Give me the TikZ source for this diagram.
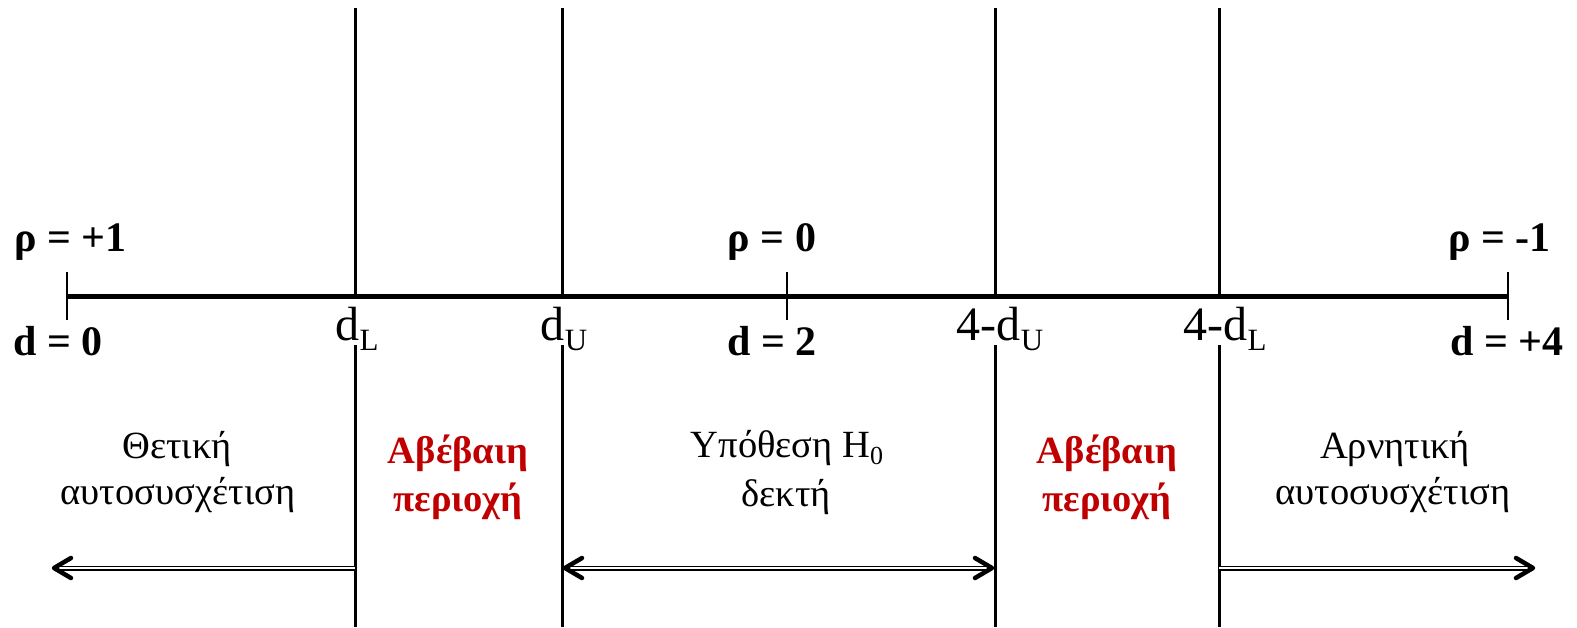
\documentclass[tikz,border=0pt]{standalone}
\usepackage{fontspec}
\setmainfont{Liberation Serif}
\usetikzlibrary{calc}
\definecolor{darkred}{HTML}{C00000}
\tikzset{
  vline/.style={line width=3pt},
  axisline/.style={line width=5pt},
  tickline/.style={line width=1.8pt},
  boldlbl/.style={font=\fontsize{42}{46}\selectfont\bfseries, inner sep=0pt},
  dlbl/.style={font=\fontsize{48}{52}\selectfont, inner sep=0pt, anchor=base},
  region/.style={font=\fontsize{38.5}{42}\selectfont, inner sep=0pt, anchor=base},
  uncertain/.style={font=\fontsize{38.5}{42}\selectfont\bfseries, text=darkred, inner sep=0pt, anchor=base},
  dbl/.style={double, line width=1.3pt, double distance=2.4pt},
  head/.style={line width=4.5pt, line cap=round, line join=round},
  lefthead/.pic={\draw[head] (17,-10) -- (0,0) -- (17,10);},
  righthead/.pic={\draw[head] (-17,-10) -- (0,0) -- (-17,10);},
}
\newcommand{\sbs}[1]{\raisebox{-10pt}{\fontsize{31}{31}\selectfont #1}}
\newcommand{\sbz}[1]{\raisebox{-7pt}{\fontsize{26}{26}\selectfont #1}}
\begin{document}
\begin{tikzpicture}[x=1pt, y=-1pt]
\useasboundingbox (0,0) rectangle (1577,627);
% axis
\coordinate (a0) at (67,296);
\coordinate (a2) at (787,296);
\coordinate (a4) at (1508,296);
\draw[axisline] (a0) -- (a4);
\foreach \n in {a0,a2,a4}{
  \draw[tickline] ($(\n)+(0,-24)$) -- ($(\n)+(0,24)$);
}
% vertical lines
\foreach \n/\x in {L1/355, L2/562, L3/995, L4/1219}{
  \coordinate (\n t) at (\x,8);
  \coordinate (\n a) at (\x,296);
  \coordinate (\n m) at (\x,345);
  \coordinate (\n b) at (\x,627);
  \draw[vline] (\n t) -- (\n a);
  \draw[vline] (\n m) -- (\n b);
}
% bold labels
\node[boldlbl, anchor=base west] (r1) at (14,251) {ρ = +1};
\node[boldlbl, anchor=base west] (d0) at (13,355) {d = 0};
\node[boldlbl, anchor=base] (r0) at (772,251) {ρ = 0};
\node[boldlbl, anchor=base] (d2) at (772,355) {d = 2};
\node[boldlbl, anchor=base east] (rm1) at (1551,251) {ρ = -1};
\node[boldlbl, anchor=base east] (d4) at (1564,355) {d = +4};
% d labels
\node[dlbl] (dL) at (357,340) {d\sbs{L}};
\node[dlbl] (dU) at (564,340) {d\sbs{U}};
\node[dlbl] (dU4) at (1000,340) {4-d\sbs{U}};
\node[dlbl] (dL4) at (1225,340) {4-d\sbs{L}};
% region texts
\node[region] (pos1) at (177,458) {Θετική};
\node[region] (pos2) at (178,504) {αυτοσυσχέτιση};
\node[uncertain] (unc1a) at (458,463) {Αβέβαιη};
\node[uncertain] (unc1b) at (458,511) {περιοχή};
\node[region] (h1) at (787,457) {Υπόθεση H\sbz{0}};
\node[region] (h2) at (786,506) {δεκτή};
\node[uncertain] (unc2a) at (1107,463) {Αβέβαιη};
\node[uncertain] (unc2b) at (1107,511) {περιοχή};
\node[region] (neg1) at (1395,458) {Αρνητική};
\node[region] (neg2) at (1393,504) {αυτοσυσχέτιση};
% arrows
\coordinate (tipL) at (54,568);
\coordinate (tipR) at (1533,568);
\coordinate (s1) at (355,568);
\coordinate (s2) at (562,568);
\coordinate (s3) at (995,568);
\coordinate (s4) at (1219,568);
\draw[dbl] (s1) -- ($(tipL)+(2,0)$);
\pic at (tipL) {lefthead};
\draw[dbl] ($(s2)+(4,0)$) -- ($(s3)+(-4,0)$);
\pic at ($(s2)+(3,0)$) {lefthead};
\pic at ($(s3)+(-3,0)$) {righthead};
\draw[dbl] (s4) -- ($(tipR)+(-2,0)$);
\pic at (tipR) {righthead};
\end{tikzpicture}
\end{document}
